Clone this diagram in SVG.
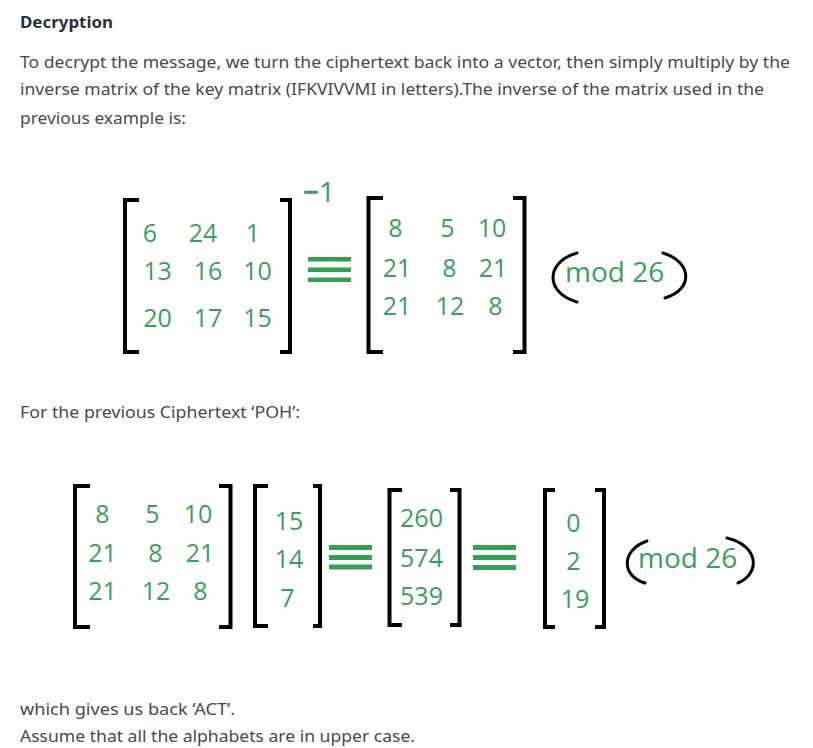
<svg xmlns="http://www.w3.org/2000/svg" width="813" height="748" viewBox="0 0 813 748">
<style>
.body{font-family:"Noto Sans","Open Sans","DejaVu Sans",sans-serif;font-size:16px;fill:#454a4f}
.title{font-family:"Noto Sans","Open Sans","DejaVu Sans",sans-serif;font-size:16px;font-weight:bold;fill:#273239}
.num{font-family:"Open Sans","Noto Sans",sans-serif;font-size:25px;fill:#3a9f5a;text-anchor:middle}
.mod{font-family:"Open Sans","Noto Sans",sans-serif;font-size:28px;fill:#3a9f5a}
.br{fill:none;stroke:#000;stroke-width:4}
.par{fill:none;stroke:#000;stroke-width:3;stroke-linecap:round}
.eq{fill:#36a051}
</style>
<rect width="813" height="748" fill="#fff"/>
<g id="intro">
<text class="title" x="20" y="28" textLength="93" lengthAdjust="spacingAndGlyphs">Decryption</text>
<text class="body" x="20" y="68" textLength="770" lengthAdjust="spacingAndGlyphs">To decrypt the message, we turn the ciphertext back into a vector, then simply multiply by the</text>
<text class="body" x="20" y="95" textLength="744" lengthAdjust="spacingAndGlyphs">inverse matrix of the key matrix (IFKVIVVMI in letters).The inverse of the matrix used in the</text>
<text class="body" x="20" y="124" textLength="166" lengthAdjust="spacingAndGlyphs">previous example is:</text>
</g>
<g id="key-matrix">
<path class="br" d="M139,200 H125 V352 H139"/>
<path class="br" d="M280,200 H290 V352 H280"/>
<text class="num" x="150" y="242">6</text><text class="num" x="203" y="242">24</text><text class="num" x="253" y="242">1</text>
<text class="num" x="157.5" y="280">13</text><text class="num" x="208" y="280">16</text><text class="num" x="257.5" y="280">10</text>
<text class="num" x="157.5" y="327">20</text><text class="num" x="208" y="327">17</text><text class="num" x="257.5" y="327">15</text>
<text class="mod" x="303" y="202" font-size="30"><tspan font-weight="bold">−</tspan>1</text>
</g>
<g id="equiv-1">
<rect class="eq" x="308" y="257" width="43" height="4.5"/>
<rect class="eq" x="308" y="267.5" width="43" height="4.5"/>
<rect class="eq" x="308" y="277.5" width="43" height="4.5"/>
</g>
<g id="inverse-matrix">
<path class="br" d="M383,198 H368.5 V352 H383"/>
<path class="br" d="M513,198 H524.5 V352 H513"/>
<text class="num" x="395.5" y="237">8</text><text class="num" x="447.5" y="237">5</text><text class="num" x="492" y="237">10</text>
<text class="num" x="397" y="277">21</text><text class="num" x="449.5" y="277">8</text><text class="num" x="493" y="277">21</text>
<text class="num" x="397" y="315">21</text><text class="num" x="450" y="315">12</text><text class="num" x="495.5" y="315">8</text>
</g>
<g id="mod-1">
<path class="par" d="M577,253 C545,262 545,293 577,302"/>
<path class="par" d="M663,253 C693,262 693,290 665,298"/>
<text class="mod" x="565" y="282">mod 26</text>
</g>
<g id="cipher-text">
<text class="body" x="20" y="418" textLength="280" lengthAdjust="spacingAndGlyphs">For the previous Ciphertext ‘POH’:</text>
</g>
<g id="matrix-a">
<path class="br" d="M90,486 H75 V627 H90"/>
<path class="br" d="M219,486 H230.5 V627 H219"/>
<text class="num" x="102.5" y="523">8</text><text class="num" x="152.5" y="523">5</text><text class="num" x="198" y="523">10</text>
<text class="num" x="102.5" y="562">21</text><text class="num" x="155.5" y="562">8</text><text class="num" x="200" y="562">21</text>
<text class="num" x="102.5" y="600">21</text><text class="num" x="156" y="600">12</text><text class="num" x="200.5" y="600">8</text>
</g>
<g id="vector-c">
<path class="br" d="M268,486 H255 V626 H268"/>
<path class="br" d="M313,486 H320 V626 H313"/>
<text class="num" x="289" y="530">15</text>
<text class="num" x="289" y="568">14</text>
<text class="num" x="287.5" y="607">7</text>
</g>
<g id="equiv-2">
<rect class="eq" x="329" y="545" width="43" height="5"/>
<rect class="eq" x="329" y="555" width="43" height="5"/>
<rect class="eq" x="329" y="564.5" width="43" height="5"/>
</g>
<g id="vector-product">
<path class="br" d="M402,490 H389.5 V625 H402"/>
<path class="br" d="M450,490 H459.5 V625 H450"/>
<text class="num" x="421.5" y="527">260</text>
<text class="num" x="421.5" y="567">574</text>
<text class="num" x="421.5" y="605">539</text>
</g>
<g id="equiv-3">
<rect class="eq" x="473" y="545" width="43" height="5"/>
<rect class="eq" x="473" y="555" width="43" height="5"/>
<rect class="eq" x="473" y="565" width="43" height="5"/>
</g>
<g id="vector-result">
<path class="br" d="M555,490 H545 V627 H555"/>
<path class="br" d="M595,490 H604 V627 H595"/>
<text class="num" x="573.5" y="532">0</text>
<text class="num" x="573.5" y="570">2</text>
<text class="num" x="575" y="608">19</text>
</g>
<g id="mod-2">
<path class="par" d="M647,541 C621,550 621,576 645,583"/>
<path class="par" d="M727,538 C760,546 760,574 738,583"/>
<text class="mod" x="638" y="568">mod 26</text>
</g>
<g id="outro">
<text class="body" x="20" y="715" textLength="215" lengthAdjust="spacingAndGlyphs">which gives us back ‘ACT’.</text>
<text class="body" x="20" y="742" textLength="395" lengthAdjust="spacingAndGlyphs">Assume that all the alphabets are in upper case.</text>
</g>
</svg>
